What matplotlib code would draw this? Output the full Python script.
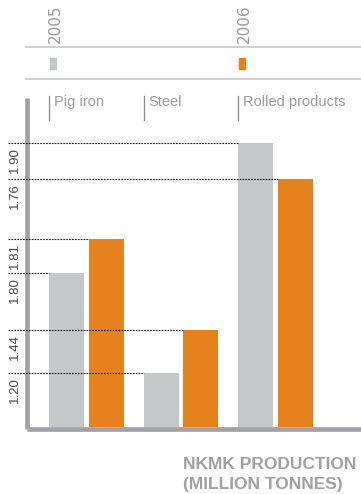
import matplotlib
matplotlib.use("Agg")
from matplotlib import pyplot as plt
from matplotlib.lines import Line2D
import numpy as np

# data
categories = ["Pig iron", "Steel", "Rolled products"]
years = ["2005", "2006"]
values_2005 = ["1.80", "1.20", "1.90"]
values_2006 = ["1.81", "1.44", "1.76"]
# drawn bar heights (chart units; the infographic is not to scale)
heights_2005 = [154, 54, 284]
heights_2006 = [188, 97, 248]
title_lines = ["NKMK PRODUCTION", "(MILLION TONNES)"]

GREY = "#c6c7c9"
ORANGE = "#e6821e"
AXIS = "#a2a2a6"
TEXT_LIGHT = "#9a9a9c"
TEXT_DARK = "#4a4a4a"

W, H = 361, 494
fig = plt.figure(figsize=(W / 100, H / 100), dpi=100)


def fx(x):
    return x / W


def fy(y):
    return 1 - y / H


# main axes, laid out in pixels
left, right, top, bottom = 27, 361, 98, 429
ax = fig.add_axes([fx(left), fy(bottom), (right - left) / W, (bottom - top) / H])
ax.set_xlim(0, right - left)
ax.set_ylim(-2, bottom - top - 2)
for s in ["top", "right"]:
    ax.spines[s].set_visible(False)
for s in ["left", "bottom"]:
    ax.spines[s].set_color(AXIS)
    ax.spines[s].set_linewidth(3.4)
    ax.spines[s].set_capstyle("butt")
ax.set_xticks([])
ax.set_yticks([])

bar_w = 35
x = 39.5 + np.arange(len(categories)) * 94.5
x2 = x + 39.5
ax.bar(x, heights_2005, width=bar_w, color=GREY, zorder=2)
ax.bar(x2, heights_2006, width=bar_w, color=ORANGE, zorder=2)

# dashed guide lines and value labels
for xs, hs, vs in [(x, heights_2005, values_2005), (x2, heights_2006, values_2006)]:
    for xi, h, v in zip(xs, hs, vs):
        ax.plot([-19, xi - bar_w / 2], [h, h], color="#222222", lw=0.8,
                dashes=(1.6, 1.0), clip_on=False, zorder=3)
        ax.text(-12.5, h - 4, v, rotation=90, ha="center", va="top",
                fontsize=9.5, color=TEXT_DARK, family="Liberation Sans",
                clip_on=False)

# category labels with small tick marks
for xi, cat in zip(x, categories):
    x0 = xi - bar_w / 2
    ax.plot([x0, x0], [331, 307], color="#8a8a8a", lw=0.9, clip_on=False)
    ax.text(x0 + 5, 332, cat, ha="left", va="top", fontsize=10.5,
            color=TEXT_LIGHT, family="Liberation Sans", clip_on=False)

# header: years and legend swatches
for l_y in [47, 79]:
    fig.add_artist(Line2D([fx(26), fx(361)], [fy(l_y), fy(l_y)], color="#c8c8c8", lw=1.2))
for xp, yr, col in [(55, years[0], GREY), (244, years[1], ORANGE)]:
    fig.text(fx(xp), fy(43), yr, rotation=90, ha="center", va="bottom",
             fontsize=11, color=TEXT_LIGHT, family="Liberation Sans Narrow")
    fig.add_artist(plt.Rectangle((fx(xp - 5), fy(69)), 6 / W, 11 / H,
                                 color=col, transform=fig.transFigure))

# title
fig.text(fx(183), fy(457), title_lines[0], ha="left", va="top", fontsize=12.5,
         fontweight="bold", color="#a0a0a2", family="Liberation Sans")
fig.text(fx(183), fy(477), title_lines[1], ha="left", va="top", fontsize=12.5,
         fontweight="bold", color="#a0a0a2", family="Liberation Sans")

fig.savefig("out.png", dpi=100)
